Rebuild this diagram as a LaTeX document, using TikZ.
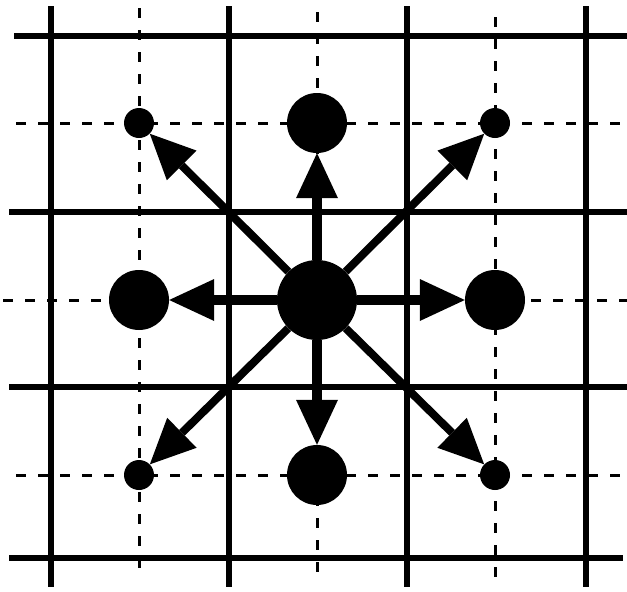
\documentclass[tikz,border=0pt]{standalone}
\usetikzlibrary{arrows.meta}

\begin{document}
\begin{tikzpicture}[
    x=1pt,y=-1pt,
    >={Triangle[length=45pt,width=42pt,line width=0pt]},
    wall/.style={line width=6pt},
    halfwall/.style={line width=3pt,dash pattern=on 10pt off 12pt},
    centre/.style={circle,fill=black,minimum size=80pt,inner sep=0pt},
    nearsite/.style={circle,fill=black,minimum size=60pt,inner sep=0pt},
    farsite/.style={circle,fill=black,minimum size=30pt,inner sep=0pt},
    hop/.style={->,line width=10pt},
    diaghop/.style={->,line width=8pt}
  ]
  \useasboundingbox (0,0) rectangle (627,592);

  % solid lattice
  \foreach \x in {51,229,407,586}
    \draw[wall] (\x,6) -- (\x,587);
  \draw[wall] (14,36) -- (627,36);
  \foreach \y in {212,387}
    \draw[wall] (9,\y) -- (627,\y);
  \draw[wall] (9,558) -- (623,558);

  % dashed half lattice
  \draw[halfwall] (139,8) -- (139,578);
  \draw[halfwall] (317,12) -- (317,580);
  \draw[halfwall] (495,17) -- (495,585);
  \draw[halfwall] (16,123) -- (627,123);
  \draw[halfwall] (3,300) -- (627,300);
  \draw[halfwall] (16,475) -- (627,475);

  % sites
  \node[centre] (c) at (317,300) {};
  \node[nearsite] (n) at (317,123) {};
  \node[nearsite] (s) at (317,475) {};
  \node[nearsite] (w) at (139,300) {};
  \node[nearsite] (e) at (495,300) {};
  \node[farsite] (nw) at (139,123) {};
  \node[farsite] (ne) at (495,123) {};
  \node[farsite] (sw) at (139,475) {};
  \node[farsite] (se) at (495,475) {};

  % hops
  \foreach \t in {n,s,e,w}
    \draw[hop] (c) -- (\t);
  \foreach \t in {nw,ne,sw,se}
    \draw[diaghop] (c) -- (\t);
\end{tikzpicture}
\end{document}
